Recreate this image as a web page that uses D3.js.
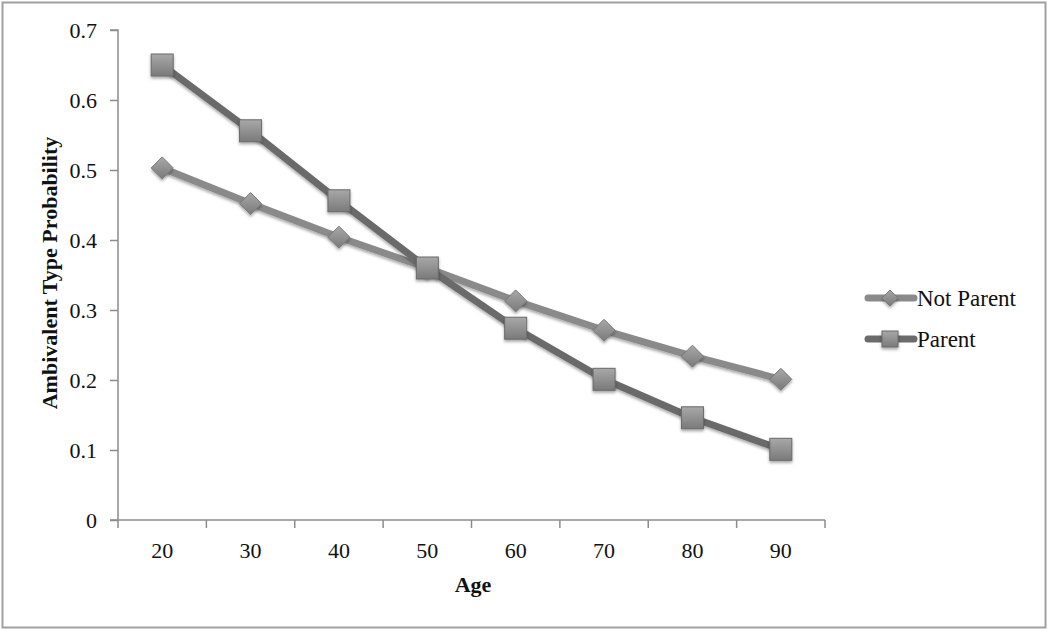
<!DOCTYPE html>
<html><head><meta charset="utf-8">
<script src="https://cdn.jsdelivr.net/npm/d3@7"></script>
<style>body{margin:0;background:#fff}svg{display:block;font-family:"Liberation Serif","Times New Roman",serif}</style>
</head><body>
<svg id="c" width="1050" height="632"></svg>
<script>
const ages = ["20","30","40","50","60","70","80","90"];
const notParent = [0.503, 0.452, 0.404, 0.360, 0.313, 0.271, 0.234, 0.201];
const parent = [0.650, 0.556, 0.456, 0.360, 0.274, 0.201, 0.146, 0.101];
const yTicks = [0, 0.1, 0.2, 0.3, 0.4, 0.5, 0.6, 0.7];
const seriesNames = ["Not Parent", "Parent"];

const svg = d3.select("#c");
const defs = svg.append("defs");
const g1 = defs.append("linearGradient").attr("id","mg").attr("x1","0").attr("y1","0").attr("x2","0").attr("y2","1");
g1.append("stop").attr("offset","0%").attr("stop-color","#a8a8a8");
g1.append("stop").attr("offset","100%").attr("stop-color","#7a7a7a");
const f = defs.append("filter").attr("id","sh").attr("x","-50%").attr("y","-50%").attr("width","200%").attr("height","200%");
f.append("feDropShadow").attr("dx",0).attr("dy",2).attr("stdDeviation",1.5).attr("flood-color","#000").attr("flood-opacity",0.35);

svg.append("rect").attr("x",2.5).attr("y",2.5).attr("width",1043).attr("height",625)
  .attr("fill","#fff").attr("stroke","#a0a0a0").attr("stroke-width",2);

const x = d3.scaleBand().domain(ages).range([118, 825]);
const y = d3.scaleLinear().domain([0, 0.7]).range([520, 30]);

// y axis
const ya = svg.append("g").attr("transform","translate(118,0)")
  .call(d3.axisLeft(y).tickValues(yTicks).tickFormat(d => d === 0 ? "0" : d3.format(".1f")(d)).tickSize(8).tickPadding(13));
ya.select(".domain").attr("stroke","#8c8c8c").attr("stroke-width",1.5).attr("d","M-8,30H0V520H-8");
ya.selectAll(".tick line").attr("stroke","#8c8c8c").attr("stroke-width",1.5);
ya.selectAll("text").attr("font-size",22).attr("fill","#111").attr("font-family","Liberation Serif, serif");

// x axis
const xa = svg.append("g").attr("transform","translate(0,520)");
xa.append("line").attr("x1",118).attr("x2",825).attr("y1",0).attr("y2",0).attr("stroke","#8c8c8c").attr("stroke-width",1.5);
const bounds = ages.map(a => x(a)).concat([x.range()[1]]);
xa.selectAll("line.t").data(bounds).join("line").attr("class","t")
  .attr("x1",d=>d).attr("x2",d=>d).attr("y1",0).attr("y2",8).attr("stroke","#8c8c8c").attr("stroke-width",1.5);
xa.selectAll("text").data(ages).join("text")
  .attr("x",d=>x(d)+x.bandwidth()/2).attr("y",38).attr("text-anchor","middle")
  .attr("font-size",22).attr("fill","#111").text(d=>d);

svg.append("text").attr("x",473).attr("y",592).attr("text-anchor","middle")
  .attr("font-size",22).attr("font-weight","bold").attr("fill","#111").text("Age");
svg.append("text").attr("transform","translate(57,273) rotate(-90)").attr("text-anchor","middle")
  .attr("font-size",22).attr("font-weight","bold").attr("fill","#111").text("Ambivalent Type Probability");

const cx = d => x(d) + x.bandwidth()/2;
const line = d3.line().x((d,i)=>cx(ages[i])).y(d=>y(d));

const colNP = "#8a8a8a", colP = "#6b6b6b";

function drawDiamond(sel, px, py, s){
  sel.append("path").attr("d",`M${px},${py-s}L${px+s},${py}L${px},${py+s}L${px-s},${py}Z`)
    .attr("fill","url(#mg)").attr("stroke","#7a7a7a").attr("stroke-width",1).attr("filter","url(#sh)");
}
function drawSquare(sel, px, py, s){
  sel.append("rect").attr("x",px-s).attr("y",py-s).attr("width",2*s).attr("height",2*s)
    .attr("fill","url(#mg)").attr("stroke","#6a6a6a").attr("stroke-width",1).attr("filter","url(#sh)");
}

const gNP = svg.append("g");
gNP.append("path").datum(notParent).attr("d",line).attr("fill","none").attr("stroke",colNP).attr("stroke-width",7).attr("stroke-linejoin","round").attr("filter","url(#sh)");
const gP = svg.append("g");
gP.append("path").datum(parent).attr("d",line).attr("fill","none").attr("stroke",colP).attr("stroke-width",7).attr("stroke-linejoin","round").attr("filter","url(#sh)");
notParent.forEach((v,i)=>drawDiamond(gNP, cx(ages[i]), y(v), 11));
parent.forEach((v,i)=>drawSquare(gP, cx(ages[i]), y(v), 11));

// legend
const leg = svg.append("g");
const legY = [298, 339];
const legCols = [colNP, colP];
seriesNames.forEach((n,i)=>{
  leg.append("line").attr("x1",868).attr("x2",914).attr("y1",legY[i]).attr("y2",legY[i])
    .attr("stroke",legCols[i]).attr("stroke-width",7).attr("stroke-linecap","round");
  if(i===0) drawDiamond(leg, 890, legY[i], 8); else drawSquare(leg, 890, legY[i], 8);
  leg.append("text").attr("x",917).attr("y",legY[i]+8).attr("font-size",23).attr("fill","#111").text(n);
});
</script>
</body></html>
